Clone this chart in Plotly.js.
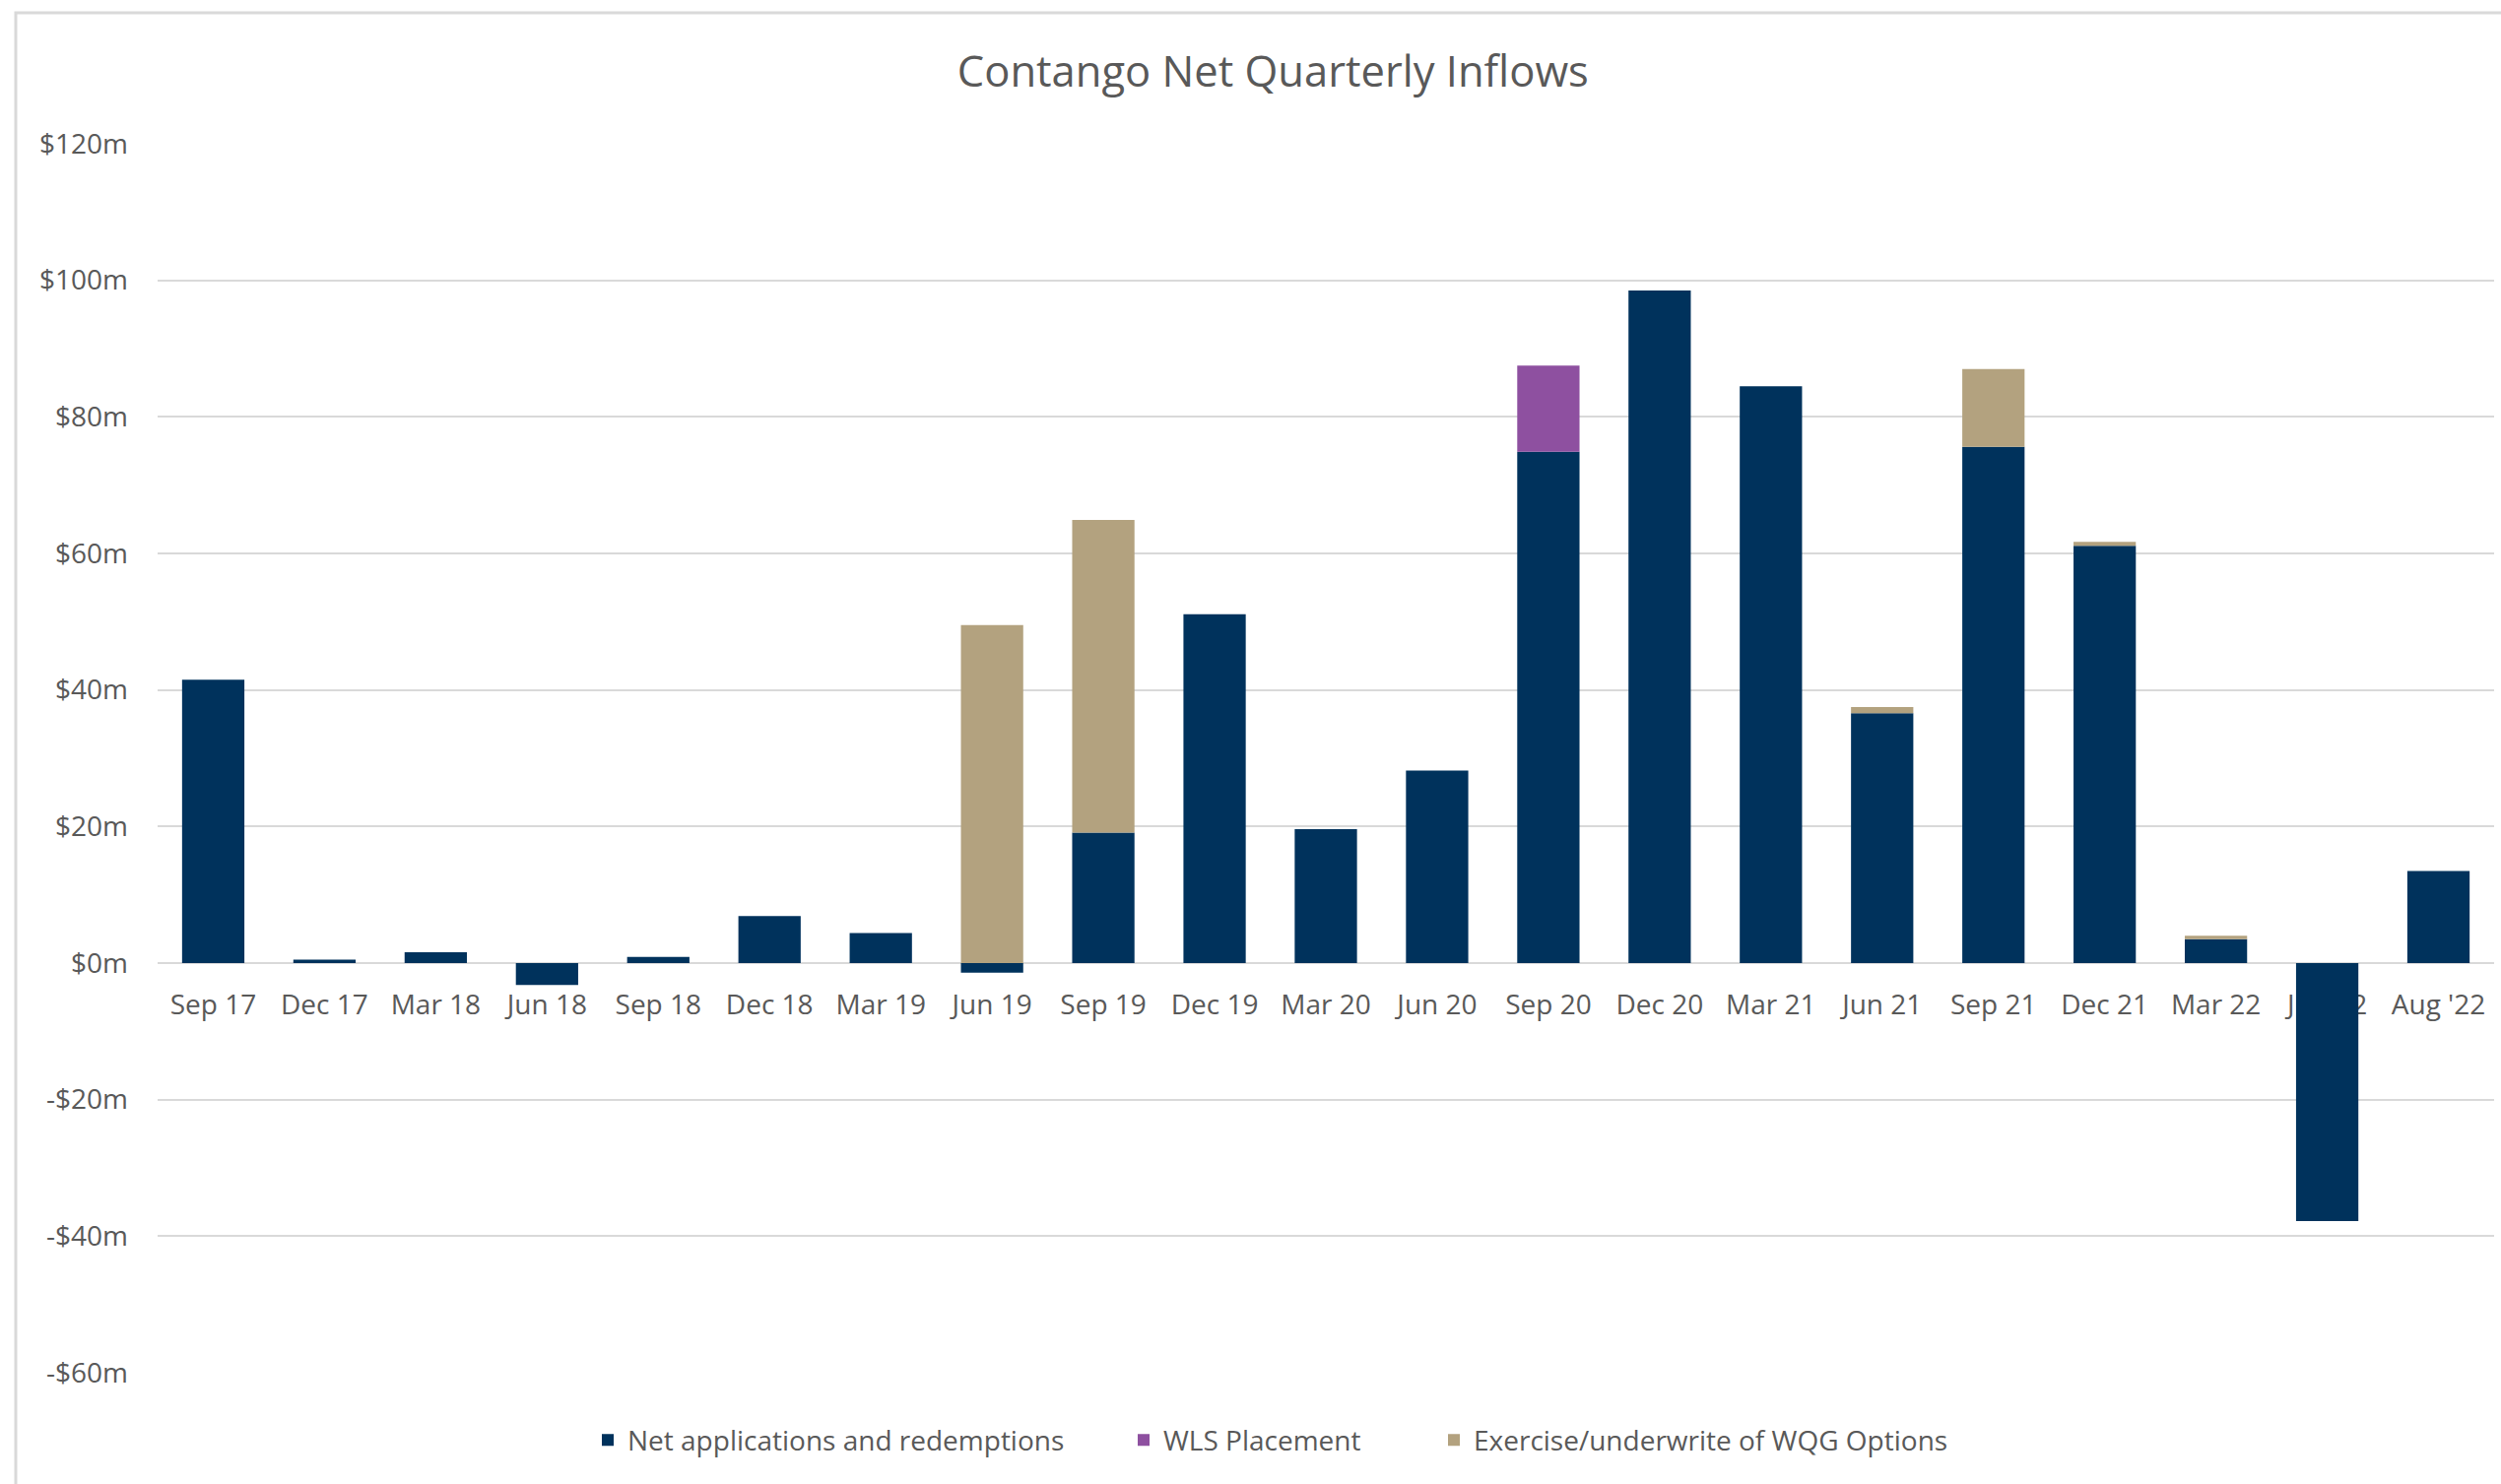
<!DOCTYPE html>
<html>
<head>
<meta charset="utf-8">
<script src="https://cdn.plot.ly/plotly-3.0.1.min.js"></script>
<style>
  html, body { margin: 0; padding: 0; background: #ffffff; }
  #chart { width: 2539px; height: 1507px; }
</style>
</head>
<body>
<div id="chart"></div>
<script>
// ---- Data (values in $ millions) ----
const quarters = ["Sep 17", "Dec 17", "Mar 18", "Jun 18", "Sep 18", "Dec 18", "Mar 19", "Jun 19",
  "Sep 19", "Dec 19", "Mar 20", "Jun 20", "Sep 20", "Dec 20", "Mar 21", "Jun 21",
  "Sep 21", "Dec 21", "Mar 22", "Jun 22", "Aug '22"];

const netApplications = [41.5, 0.5, 1.6, -3.2, 0.9, 6.9, 4.4, -1.4,
  19.1, 51.1, 19.6, 28.2, 74.9, 98.5, 84.5, 36.6,
  75.6, 61.1, 3.5, -37.8, 13.5];

const wlsPlacement = [0, 0, 0, 0, 0, 0, 0, 0,
  0, 0, 0, 0, 12.6, 0, 0, 0,
  0, 0, 0, 0, 0];

const wqgOptions = [0, 0, 0, 0, 0, 0, 0, 49.5,
  45.8, 0, 0, 0, 0, 0, 0, 0.9,
  11.4, 0.6, 0.5, 0, 0];

const yTickValues = [120, 100, 80, 60, 40, 20, 0, -20, -40, -60];
const yTickLabels = ["$120m", "$100m", "$80m", "$60m", "$40m", "$20m", "$0m", "-$20m", "-$40m", "-$60m"];

const seriesNames = ["Net applications and redemptions", "WLS Placement", "Exercise/underwrite of WQG Options"];
const seriesColors = ["#00325C", "#8E50A0", "#B3A27F"];
const legendIds = ["legend", "legend2", "legend3"];

// ---- Chart ----
const FONT = "Open Sans, Noto Sans, sans-serif";
const TXT = "#595959";

const traces = [netApplications, wlsPlacement, wqgOptions].map((vals, i) => ({
  type: "bar",
  name: seriesNames[i],
  x: quarters,
  y: vals,
  legend: legendIds[i],
  marker: { color: seriesColors[i], line: { width: 0 } },
  hoverinfo: "x+y+name"
}));

function legendAt(xpx) {
  return {
    orientation: "h",
    x: (xpx - 160) / 2372, xanchor: "left",
    y: -0.055, yanchor: "middle",
    font: { family: FONT, size: 28, color: TXT },
    itemwidth: 30,
    bgcolor: "rgba(0,0,0,0)",
    borderwidth: 0
  };
}

const layout = {
  width: 2539,
  height: 1507,
  paper_bgcolor: "#ffffff",
  plot_bgcolor: "#ffffff",
  margin: { l: 160, r: 7, t: 146, b: 113 },
  barmode: "relative",
  bargap: 0.44,
  showlegend: true,
  title: {
    text: "Contango Net Quarterly Inflows",
    font: { family: FONT, size: 43.5, color: TXT },
    x: 0.509, xref: "container", xanchor: "center",
    y: 0.952, yref: "container", yanchor: "middle"
  },
  xaxis: {
    type: "category",
    anchor: "free",
    position: 0.3333,
    showgrid: false,
    showline: false,
    zeroline: false,
    ticks: "",
    ticklabelstandoff: 23,
    layer: "below traces",
    tickfont: { family: FONT, size: 28, color: TXT },
    fixedrange: true
  },
  yaxis: {
    range: [-60, 120],
    tickvals: yTickValues,
    ticktext: yTickLabels,
    showgrid: true,
    gridcolor: "#D9D9D9",
    gridwidth: 2,
    zeroline: true,
    zerolinecolor: "#D9D9D9",
    zerolinewidth: 2,
    showline: false,
    ticks: "",
    ticklabelstandoff: 29,
    tickfont: { family: FONT, size: 28, color: TXT },
    fixedrange: true
  },
  legend: legendAt(597),
  legend2: legendAt(1141),
  legend3: legendAt(1456),
  shapes: [{
    type: "rect",
    xref: "paper", yref: "paper",
    x0: (16 - 160) / 2372, x1: (2560 - 160) / 2372,
    y0: (1394 - 1530) / 1248, y1: (1394 - 13) / 1248,
    line: { color: "#D9D9D9", width: 3 },
    fillcolor: "rgba(0,0,0,0)",
    layer: "below"
  }]
};

Plotly.newPlot("chart", traces, layout, { displayModeBar: false, staticPlot: true });
</script>
</body>
</html>
